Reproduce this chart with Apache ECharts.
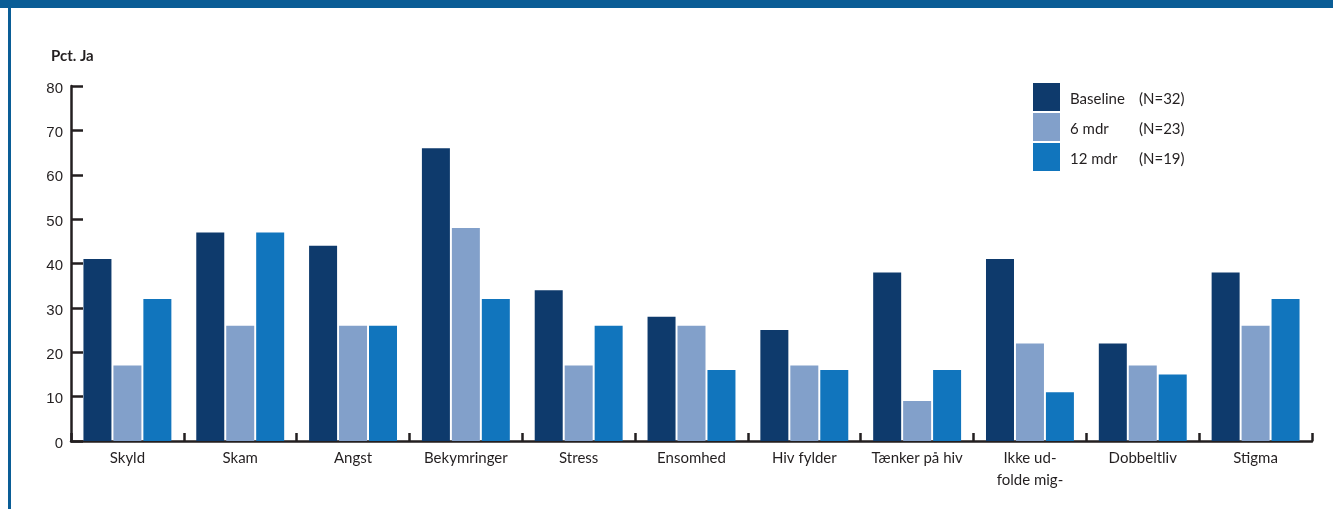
<!DOCTYPE html>
<html>
<head>
<meta charset="utf-8">
<script src="https://cdn.jsdelivr.net/npm/echarts@6/dist/echarts.min.js"></script>
<style>
  html, body { margin: 0; padding: 0; background: #ffffff; }
  #chart { width: 1333px; height: 509px; }
</style>
</head>
<body>
<div id="chart"></div>
<script>
// Andel der svarer "Ja" pr. tema, ved baseline, 6 og 12 måneder
const categories = ['Skyld', 'Skam', 'Angst', 'Bekymringer', 'Stress', 'Ensomhed',
  'Hiv fylder', 'Tænker på hiv', 'Ikke ud-\nfolde mig-', 'Dobbeltliv', 'Stigma'];
const seriesNames = ['Baseline', '6 mdr', '12 mdr'];
const seriesN = [32, 23, 19];
const baseline = [41, 47, 44, 66, 34, 28, 25, 38, 41, 22, 38];
const mdr6 = [17, 26, 26, 48, 17, 26, 17, 9, 22, 17, 26];
const mdr12 = [32, 47, 26, 32, 26, 16, 16, 16, 11, 15, 32];
const yTicks = { min: 0, max: 80, interval: 10 };

const colors = ['#0e3a6c', '#82a0ca', '#1175bd'];
const ink = '#231f20';
const labelFont = 'Lato, "Open Sans", sans-serif';
const numFont = '"Liberation Sans", Arial, sans-serif';

const chart = echarts.init(document.getElementById('chart'), null, { renderer: 'canvas' });

const values = [baseline, mdr6, mdr12];

chart.setOption({
  animation: false,
  backgroundColor: '#ffffff',
  graphic: [
    { type: 'rect', shape: { x: 0, y: 0, width: 1333, height: 8 }, style: { fill: '#0a5d96' } },
    { type: 'rect', shape: { x: 8, y: 0, width: 3, height: 509 }, style: { fill: '#0a5d96' } },
    { type: 'text', left: 51, top: 49, style: { text: 'Pct. Ja', fill: ink, font: 'bold 15px ' + labelFont } }
  ],
  legend: {
    orient: 'vertical',
    left: 1033,
    top: 83,
    padding: 0,
    itemWidth: 27,
    itemHeight: 28,
    itemGap: 2,
    icon: 'rect',
    data: seriesNames,
    formatter: function (name) {
      const i = seriesNames.indexOf(name);
      return '{a|' + name + '}{b|(N=' + seriesN[i] + ')}';
    },
    textStyle: {
      color: ink,
      fontFamily: labelFont,
      fontSize: 15,
      padding: [4, 0, 0, 5],
      rich: {
        a: { width: 69, fontFamily: labelFont, fontSize: 15, color: ink },
        b: { fontFamily: labelFont, fontSize: 15, color: ink }
      }
    }
  },
  grid: { left: 71, right: 21, top: 86, bottom: 68, containLabel: false },
  xAxis: {
    type: 'category',
    data: categories,
    axisLine: { lineStyle: { color: ink, width: 2.5 } },
    axisTick: { show: true, inside: true, length: 8, alignWithLabel: false, lineStyle: { color: ink, width: 2.5 } },
    axisLabel: { color: ink, fontFamily: labelFont, fontSize: 15, margin: 6, lineHeight: 22, interval: 0 }
  },
  yAxis: {
    type: 'value',
    min: yTicks.min,
    max: yTicks.max,
    interval: yTicks.interval,
    axisLine: { show: true, lineStyle: { color: ink, width: 2.5 } },
    axisTick: { show: true, inside: true, length: 12, lineStyle: { color: ink, width: 2.5 } },
    splitLine: { show: false },
    axisLabel: {
      color: ink, fontFamily: numFont, fontSize: 15, margin: 8,
      formatter: '{v|{value}}',
      rich: { v: { fontFamily: numFont, fontSize: 15, color: ink, padding: [5, 0, 0, 0] } }
    }
  },
  series: seriesNames.map(function (name, i) {
    return {
      name: name,
      type: 'bar',
      data: values[i],
      barWidth: 28,
      barGap: '7%',
      itemStyle: { color: colors[i] }
    };
  })
});
</script>
</body>
</html>
